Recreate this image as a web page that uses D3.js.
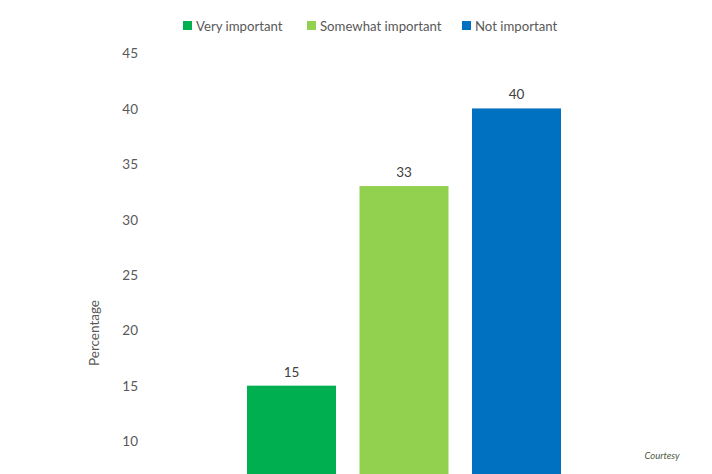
<!DOCTYPE html>
<html><head><meta charset="utf-8">
<script src="https://cdn.jsdelivr.net/npm/d3@7"></script>
<style>body{margin:0;background:#fff}svg{display:block}text{font-family:Lato,"Open Sans",sans-serif}</style>
</head><body>
<script>
const categories = ["Very important", "Somewhat important", "Not important"];
const values = [15, 33, 40];
const colors = ["#00B050", "#92D050", "#0070C0"];
const yTicks = [10, 15, 20, 25, 30, 35, 40, 45];

const W = 712, H = 474;
const svg = d3.select("body").append("svg").attr("width", W).attr("height", H);

const x = d3.scaleBand().domain(categories).range([235.25, 572.75]).paddingInner(0.209).paddingOuter(0.1045);
const y = d3.scaleLinear().domain([0, 45]).range([552, 53]);

const yAxis = d3.axisLeft(y).tickValues(yTicks).tickSize(0).tickPadding(0);
const ga = svg.append("g").attr("transform", "translate(138,0)").call(yAxis);
ga.select(".domain").remove();
ga.selectAll("text").attr("fill", "#595959").style("font-size", "13.5px").style("font-family", "Lato, sans-serif").attr("dy", "0.35em");

svg.append("text").attr("transform", "translate(99,333) rotate(-90)").attr("text-anchor", "middle")
  .attr("fill", "#595959").style("font-size", "13.5px").text("Percentage");

svg.selectAll("rect.bar").data(categories).join("rect").attr("class", "bar")
  .attr("x", d => x(d)).attr("width", x.bandwidth())
  .attr("y", (d, i) => y(values[i])).attr("height", (d, i) => y(0) - y(values[i]))
  .attr("fill", (d, i) => colors[i]);

svg.selectAll("text.lbl").data(categories).join("text").attr("class", "lbl")
  .attr("x", d => x(d) + x.bandwidth() / 2).attr("y", (d, i) => y(values[i]) - 9)
  .attr("text-anchor", "middle").attr("fill", "#404040").style("font-size", "13.5px")
  .text((d, i) => values[i]);

const legX = [183, 307, 462];
const lg = svg.selectAll("g.leg").data(categories).join("g").attr("class", "leg")
  .attr("transform", (d, i) => `translate(${legX[i]},21)`);
lg.append("rect").attr("width", 9).attr("height", 9).attr("fill", (d, i) => colors[i]);
lg.append("text").attr("x", 13).attr("y", 5).attr("dy", "0.35em").attr("fill", "#595959")
  .style("font-size", "13.2px").text(d => d);

svg.append("text").attr("x", 662).attr("y", 459).attr("text-anchor", "middle")
  .attr("fill", "#4a5a40").style("font-size", "9.5px").style("font-style", "italic").text("Courtesy");
</script>
</body></html>
